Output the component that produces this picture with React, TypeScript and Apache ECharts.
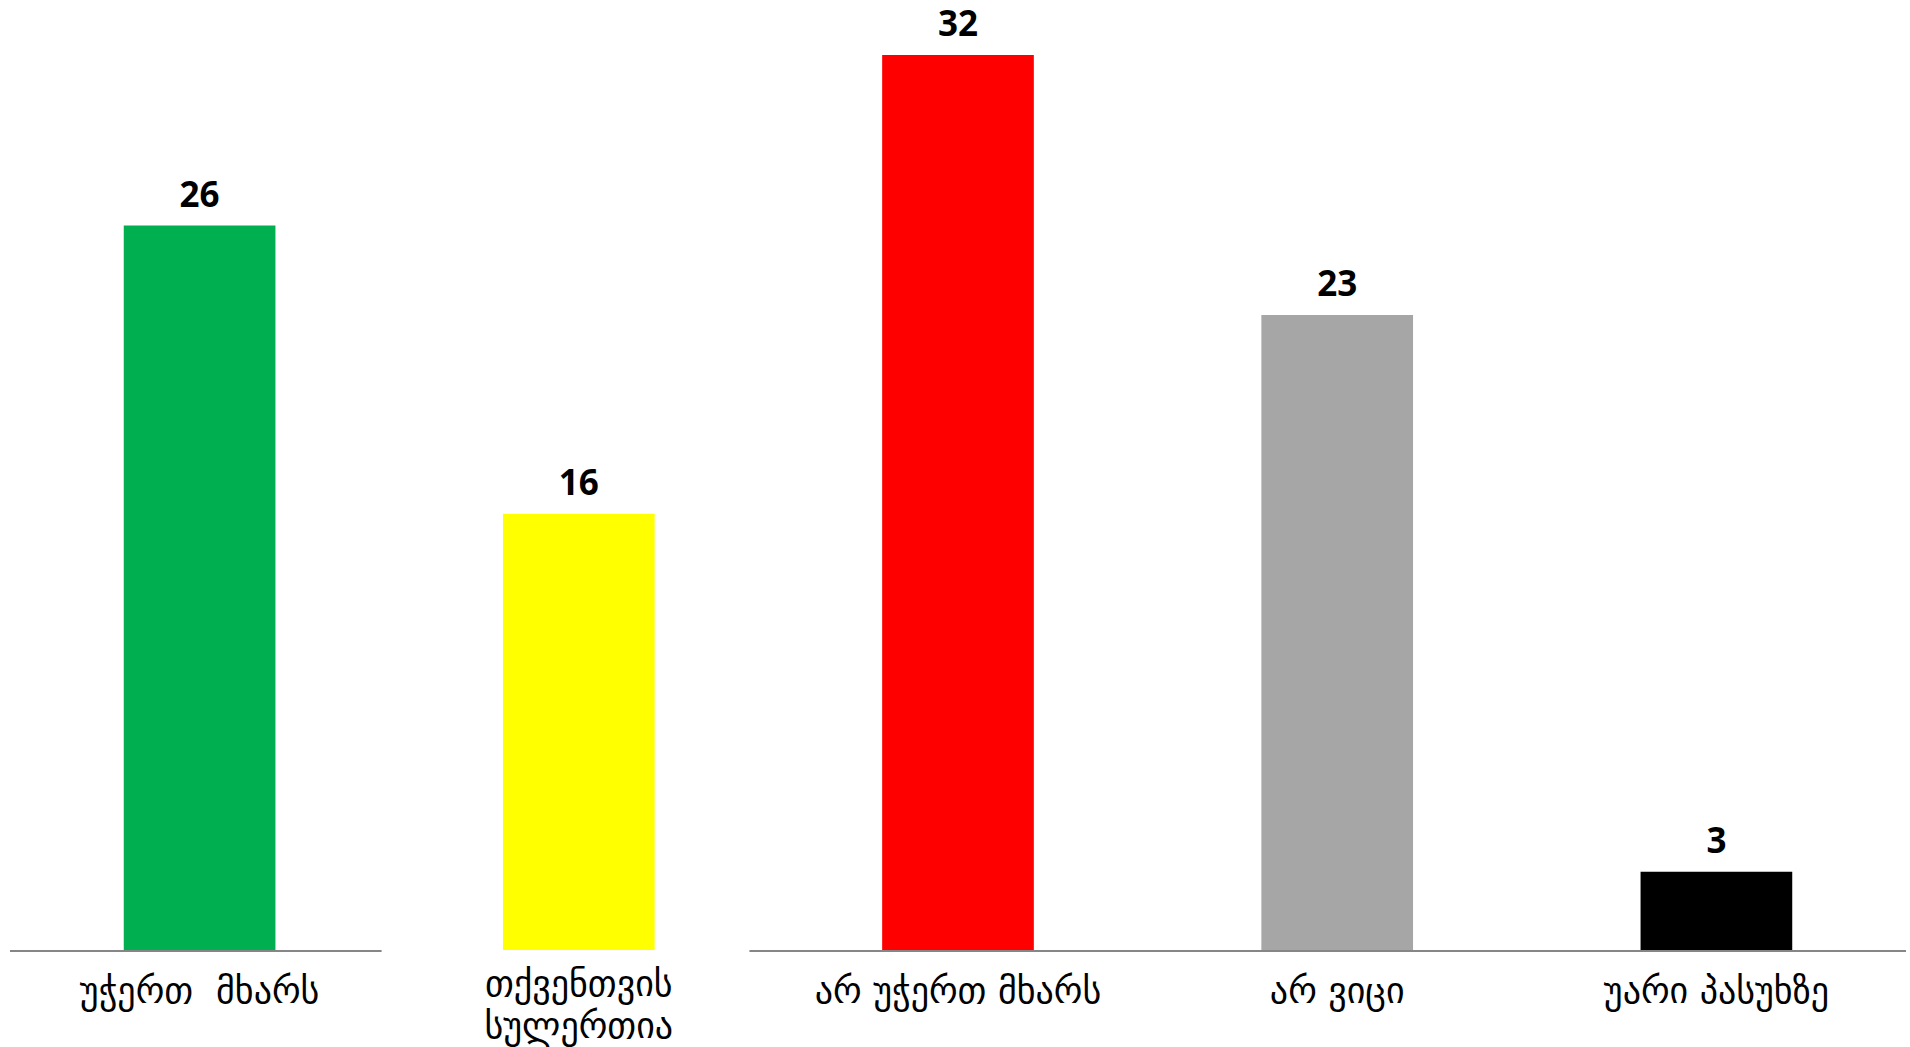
import React, { useEffect, useRef } from "react";
import * as echarts from "echarts";

const categories = ["უჭერთ  მხარს", "თქვენთვის\nსულერთია", "არ უჭერთ მხარს", "არ ვიცი", "უარი პასუხზე"];
const values = [25.9, 15.6, 32, 22.7, 2.8];
const barColors = ["#00B050", "#FFFF00", "#FF0000", "#A6A6A6", "#000000"];

export default function App() {
  const ref = useRef<HTMLDivElement>(null);
  useEffect(() => {
    const chart = echarts.init(ref.current!, null, { renderer: "svg" });
    const option: any = {
      animation: false,
      backgroundColor: "#ffffff",
      grid: { left: 10, right: 4, top: 55, bottom: 97, containLabel: false },
      xAxis: {
        type: "category",
        data: categories.map((c, i) =>
          i === 1 ? { value: c, textStyle: { lineHeight: 42 } } : c
        ),
        axisLine: { show: false },
        axisTick: { show: false },
        axisLabel: {
          interval: 0,
          margin: 12,
          color: "#000000",
          fontSize: 36,
          lineHeight: 56,
          fontFamily: "DejaVu Sans",
        },
      },
      yAxis: {
        type: "value",
        min: 0,
        max: 32,
        show: false,
        splitLine: { show: false },
      },
      series: [
        {
          type: "bar",
          barWidth: "40%",
          data: values.map((v, i) => ({ value: v, itemStyle: { color: barColors[i] } })),
          label: {
            show: true,
            position: "top",
            distance: 15,
            color: "#000000",
            fontSize: 35,
            fontWeight: "bold",
            fontFamily: "Open Sans",
            formatter: (p: any) => String(Math.round(p.value)),
          },
        },
      ],
    };
    chart.setOption(option);
    const c0 = chart.convertToPixel({ xAxisIndex: 0 }, categories[0]) as number;
    const c1 = chart.convertToPixel({ xAxisIndex: 0 }, categories[1]) as number;
    const catW = c1 - c0;
    const y0 = chart.convertToPixel({ yAxisIndex: 0 }, 0) as number;
    const left = c0 - catW / 2;
    const right = left + catW * categories.length;
    const lineStyle = { stroke: "#868686", lineWidth: 2 };
    chart.setOption({
      graphic: [
        { type: "line", shape: { x1: left, y1: y0 + 1, x2: c1 - catW * 0.52, y2: y0 + 1 }, style: lineStyle, z: 10 },
        { type: "line", shape: { x1: c1 + catW * 0.45, y1: y0 + 1, x2: right, y2: y0 + 1 }, style: lineStyle, z: 10 },
      ],
    });
    return () => chart.dispose();
  }, []);
  return <div ref={ref} style={{ position: "fixed", left: 0, top: 0, width: 1910, height: 1047, overflow: "hidden" }} />;
}
